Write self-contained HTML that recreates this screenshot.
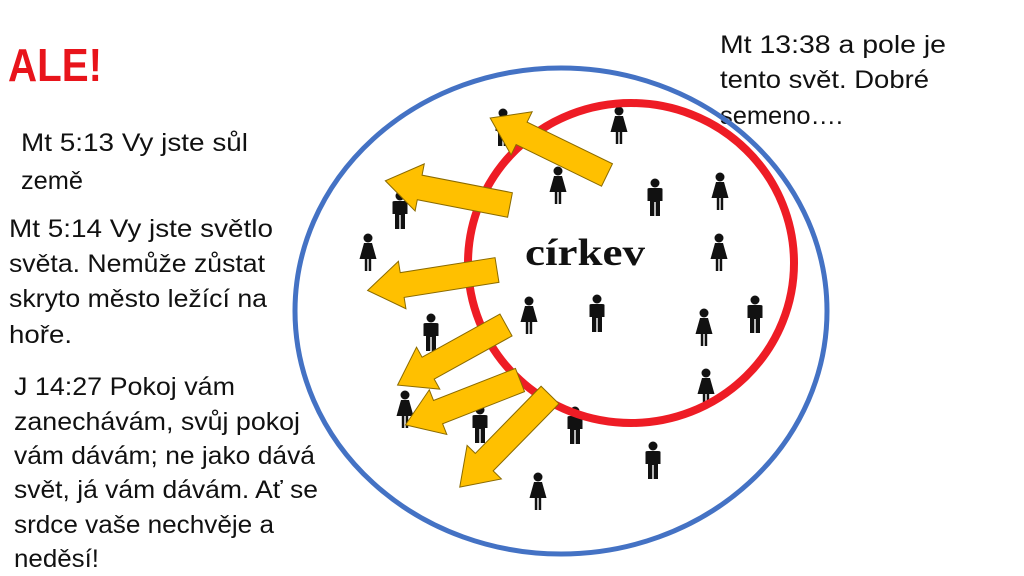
<!DOCTYPE html>
<html><head><meta charset="utf-8"><style>
html,body{margin:0;padding:0;background:#fff;}
svg{display:block;}
text{font-family:"Liberation Sans",sans-serif;font-size:25px;fill:#111;}
</style></head><body>
<svg width="1024" height="576" viewBox="0 0 1024 576" xmlns="http://www.w3.org/2000/svg">
<defs>
<g id="m">
<circle cx="0" cy="4" r="4.5"/>
<path d="M-7.5,10 Q-7.5,9 -5,9 L5,9 Q7.5,9 7.5,10 L7.5,22 L5,22 L5,37 L0.7,37 L0.7,23 L-0.7,23 L-0.7,37 L-5,37 L-5,22 L-7.5,22 Z"/>
</g>
<g id="f">
<circle cx="0" cy="4" r="4.5"/>
<path d="M-4,9 L4,9 L8.5,25 L3.2,25 L3.2,37 L0.7,37 L0.7,25 L-0.7,25 L-0.7,37 L-3.2,37 L-3.2,25 L-8.5,25 Z"/>
</g>
</defs>

<text x="8" y="81" style="font-size:46px;font-weight:bold;fill:#e8141b" textLength="94" lengthAdjust="spacingAndGlyphs">ALE!</text>

<g>
<text x="21" y="151" textLength="227" lengthAdjust="spacingAndGlyphs">Mt 5:13  Vy jste sůl</text>
<text x="21" y="189" textLength="62" lengthAdjust="spacingAndGlyphs">země</text>

<text x="9" y="237" textLength="264" lengthAdjust="spacingAndGlyphs">Mt 5:14  Vy jste světlo</text>
<text x="9" y="272" textLength="256" lengthAdjust="spacingAndGlyphs">světa. Nemůže zůstat</text>
<text x="9" y="307" textLength="258" lengthAdjust="spacingAndGlyphs">skryto město ležící na</text>
<text x="9" y="343" textLength="63" lengthAdjust="spacingAndGlyphs">hoře.</text>

<text x="14" y="395" textLength="221" lengthAdjust="spacingAndGlyphs">J 14:27  Pokoj vám</text>
<text x="14" y="430" textLength="286" lengthAdjust="spacingAndGlyphs">zanechávám, svůj pokoj</text>
<text x="14" y="464" textLength="301" lengthAdjust="spacingAndGlyphs">vám dávám; ne jako dává</text>
<text x="14" y="498" textLength="304" lengthAdjust="spacingAndGlyphs">svět, já vám dávám. Ať se</text>
<text x="14" y="533" textLength="260" lengthAdjust="spacingAndGlyphs">srdce vaše nechvěje a</text>
<text x="14" y="567" textLength="85" lengthAdjust="spacingAndGlyphs">neděsí!</text>

<text x="720" y="53" textLength="226" lengthAdjust="spacingAndGlyphs">Mt 13:38  a pole je</text>
<text x="720" y="88" textLength="209" lengthAdjust="spacingAndGlyphs">tento svět. Dobré</text>
<text x="720" y="124" textLength="123" lengthAdjust="spacingAndGlyphs">semeno….</text>
</g>

<g fill="#111">
<use href="#m" x="503" y="109"/>
<use href="#f" x="619" y="107"/>
<use href="#f" x="558" y="167"/>
<use href="#m" x="655" y="179"/>
<use href="#f" x="720" y="173"/>
<use href="#m" x="400" y="192"/>
<use href="#f" x="368" y="234"/>
<use href="#f" x="719" y="234"/>
<use href="#f" x="529" y="297"/>
<use href="#m" x="597" y="295"/>
<use href="#f" x="704" y="309"/>
<use href="#m" x="755" y="296"/>
<use href="#m" x="431" y="314"/>
<use href="#f" x="706" y="369"/>
<use href="#f" x="405" y="391"/>
<use href="#m" x="480" y="406"/>
<use href="#m" x="575" y="407"/>
<use href="#m" x="653" y="442"/>
<use href="#f" x="538" y="473"/>
</g>

<ellipse cx="561" cy="311" rx="266" ry="243" fill="none" stroke="#4472c4" stroke-width="5"/>
<ellipse cx="631" cy="263" rx="163" ry="160" fill="none" stroke="#ee1c25" stroke-width="8"/>

<text x="525" y="265" style="font-family:'Liberation Serif',serif;font-size:38px;font-weight:bold;fill:#111" textLength="120" lengthAdjust="spacingAndGlyphs">církev</text>

<g fill="#ffc000" stroke="#8a6a00" stroke-width="1">
<polygon transform="translate(607,175) rotate(206)" points="0,-12.5 95,-12.5 95,-24 130,0 95,24 95,12.5 0,12.5"/>
<polygon transform="translate(510,205) rotate(191)" points="0,-12.5 92,-12.5 92,-24 127,0 92,24 92,12.5 0,12.5"/>
<polygon transform="translate(497,270) rotate(171)" points="0,-12.5 96,-12.5 96,-24 131,0 96,24 96,12.5 0,12.5"/>
<polygon transform="translate(506,325) rotate(151)" points="0,-12.5 89,-12.5 89,-24 124,0 89,24 89,12.5 0,12.5"/>
<polygon transform="translate(520,380) rotate(158.6)" points="0,-12.5 88,-12.5 88,-24 123,0 88,24 88,12.5 0,12.5"/>
<polygon transform="translate(550,395) rotate(134.4)" points="0,-12.5 94,-12.5 94,-24 129,0 94,24 94,12.5 0,12.5"/>
</g>
</svg>
</body></html>
